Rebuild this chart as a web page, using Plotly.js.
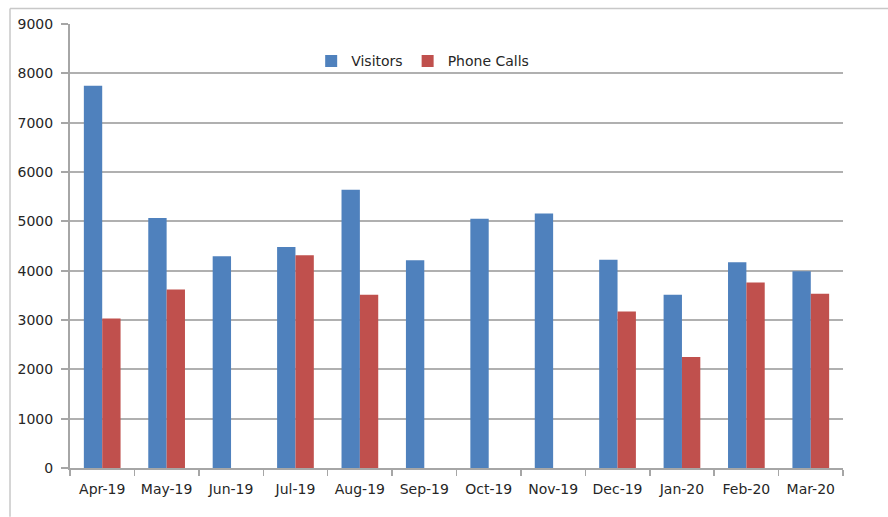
<!DOCTYPE html>
<html>
<head>
<meta charset="utf-8">
<script src="https://cdn.plot.ly/plotly-3.0.1.min.js"></script>
<style>html,body{margin:0;padding:0;background:#fff;}#chart{width:888px;height:517px;}</style>
</head>
<body>
<div id="chart"></div>
<script>
const months = ["Apr-19","May-19","Jun-19","Jul-19","Aug-19","Sep-19","Oct-19","Nov-19","Dec-19","Jan-20","Feb-20","Mar-20"];
const visitors = [7750,5070,4290,4480,5640,4210,5050,5160,4220,3510,4170,3990];
const phoneCalls = [3030,3620,null,4310,3510,null,null,null,3170,2250,3760,3530];
const yTicks = [0,1000,2000,3000,4000,5000,6000,7000,8000,9000];

const fam = "DejaVu Sans, sans-serif";
const txt = {family: fam, size: 14, color: "#262626"};
const data = [
  {type:"bar", name:"Visitors", x:months, y:visitors, marker:{color:"#4F81BD"}},
  {type:"bar", name:"Phone Calls", x:months, y:phoneCalls, marker:{color:"#C0504D"}}
];
const layout = {
  width: 888, height: 517,
  margin: {l:70, r:45, t:23.5, b:48.5},
  paper_bgcolor: "#fff", plot_bgcolor: "#fff",
  font: txt,
  barmode: "group", bargap: 0.43, bargroupgap: 0,
  showlegend: true,
  legend: {orientation:"h", x:0.312, y:0.916, xanchor:"left", yanchor:"middle",
           font:txt, bgcolor:"rgba(0,0,0,0)", itemwidth:30, tracegroupgap:0},
  xaxis: {type:"category", showgrid:false, showline:true, linecolor:"#a6a6a6", linewidth:2,
          ticks:"outside", tickson:"boundaries", ticklen:6, tickcolor:"#a6a6a6", tickwidth:1.5,
          ticklabelstandoff:7, tickfont:txt, fixedrange:true},
  yaxis: {range:[0,9000], tickvals:yTicks, ticktext:yTicks.map(String), showgrid:true, gridcolor:"#b0b0b0", gridwidth:2,
          showline:true, linecolor:"#a6a6a6", linewidth:2, ticks:"outside", ticklen:7, tickcolor:"#a6a6a6", tickwidth:2,
          ticklabelstandoff:5, zeroline:false, tickfont:txt, fixedrange:true},
  shapes: [
    {type:"line", xref:"paper", yref:"paper", x0:-0.0776, x1:1.06, y0:1.035, y1:1.035, line:{color:"#c8c8c8", width:1.5}},
    {type:"line", xref:"paper", yref:"paper", x0:-0.0776, x1:-0.0776, y0:1.035, y1:-0.11, line:{color:"#c8c8c8", width:1.5}}
  ]
};
Plotly.newPlot("chart", data, layout, {displayModeBar:false, staticPlot:true});
</script>
</body>
</html>
